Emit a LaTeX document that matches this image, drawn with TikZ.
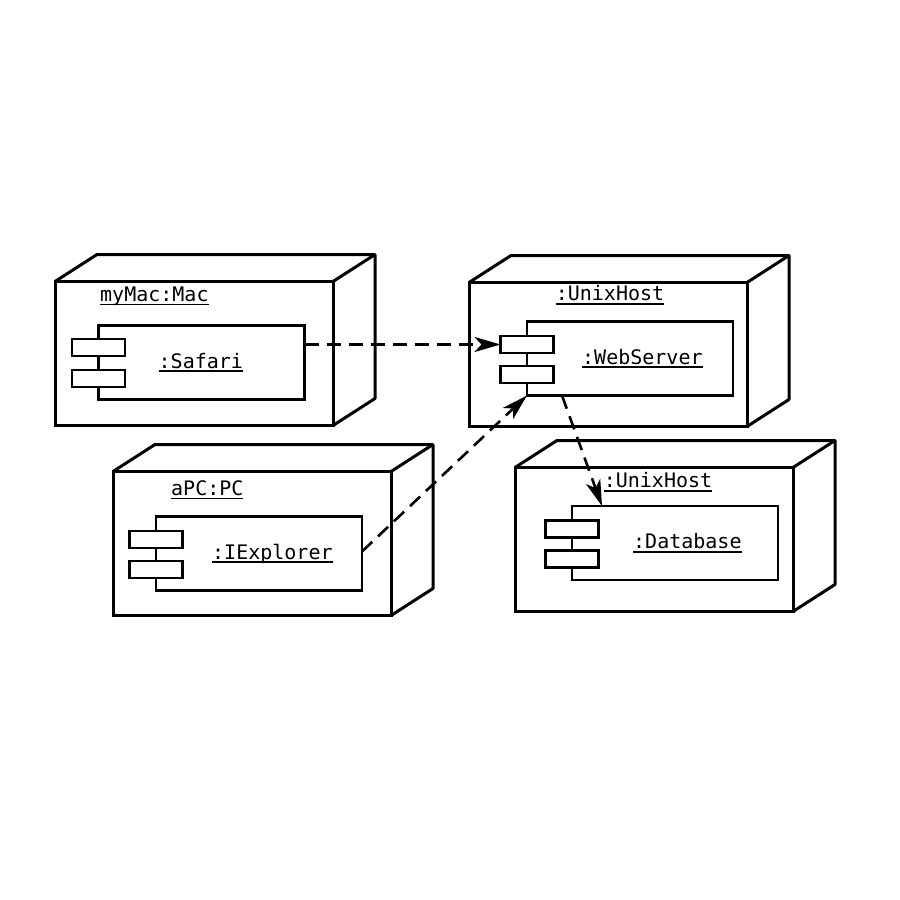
\documentclass[tikz,border=0pt]{standalone}
\usepackage{fontspec}
\setmonofont{DejaVu Sans Mono}
\usetikzlibrary{arrows.meta,positioning}

\newcommand\undl[1]{\setbox0\hbox{#1}\rlap{\rule[-4pt]{\wd0}{1.7pt}}\box0}
\newcommand\boxdepth[1]{%
  \draw[edge] (#1.north west) -- ++(42,-27) -- ++(278,0) -- ++(0,144) -- (#1.south east);
  \draw[edge] (#1.north east) -- ++(42,-27);}

\begin{document}
\begin{tikzpicture}[x=1pt, y=-1pt,
  device/.style = {draw, line width=3pt, outer sep=0, inner sep=0,
    minimum width=278pt, minimum height=144pt},
  edge/.style = {line width=3pt, line join=round},
  comp/.style = {draw, line width=2.6pt, outer sep=0, inner sep=0,
    minimum width=206pt, minimum height=74pt},
  tab/.style = {draw, fill=white, line width=2.6pt, outer sep=0, inner sep=0,
    minimum width=53pt, minimum height=17pt},
  lbltext/.style = {font=\ttfamily\fontsize{20}{22}\selectfont, inner sep=0},
  dep/.style = {line width=2.6pt, dash pattern=on 14pt off 8pt,
    -{Stealth[length=26pt,width=15pt,inset=7pt]}}]

\useasboundingbox (0,0) rectangle (900,900);

% devices
\node[device] (mac) at (194,353.5) {};
\boxdepth{mac}
\node[device] (web) at (608,354.5) {};
\boxdepth{web}
\node[device] (pc) at (252,543.5) {};
\boxdepth{pc}
\node[device] (db) at (654,539.5) {};
\boxdepth{db}

\node[lbltext, anchor=west] (maclbl) at (100,296) {\undl{myMac:Mac}};
\node[lbltext] (weblbl) at (610,295) {\undl{:UnixHost}};
\node[lbltext, anchor=west] (pclbl) at (171,490) {\undl{aPC:PC}};
\node[lbltext] (dblbl) at (658,482) {\undl{:UnixHost}};

% components
\node[comp] (safari) at (201.5,362.5) {};
\node[tab] (safariA) at ([yshift=15pt]safari.west) {};
\node[tab] (safariB) at ([yshift=-16pt]safari.west) {};
\node[lbltext, anchor=west] (safarilbl) at ([xshift=60pt]safari.west) {\undl{:Safari}};

\node[comp] (websrv) at (630,358.5) {};
\node[tab] (websrvA) at ([yshift=14pt]websrv.west) {};
\node[tab] (websrvB) at ([yshift=-16pt]websrv.west) {};
\node[lbltext, anchor=west] (websrvlbl) at ([xshift=55pt]websrv.west) {\undl{:WebServer}};

\node[comp] (iexp) at (259,553.5) {};
\node[tab] (iexpA) at ([yshift=14pt]iexp.west) {};
\node[tab] (iexpB) at ([yshift=-16pt]iexp.west) {};
\node[lbltext, anchor=west] (iexplbl) at ([xshift=56pt]iexp.west) {\undl{:IExplorer}};

\node[comp] (dbase) at (675,543) {};
\node[tab] (dbaseA) at ([yshift=14pt]dbase.west) {};
\node[tab] (dbaseB) at ([yshift=-16pt]dbase.west) {};
\node[lbltext, anchor=west] (dbaselbl) at ([xshift=61pt]dbase.west) {\undl{:Database}};

% dependencies
\draw[dep] (safari.east |- websrvA.west) -- (websrvA.west);
\draw[dep] ([yshift=2pt]iexp.east) -- (websrv.south west);
\draw[dep] ([xshift=35pt]websrv.south west) -- ([xshift=30pt]dbase.north west);
\end{tikzpicture}
\end{document}
